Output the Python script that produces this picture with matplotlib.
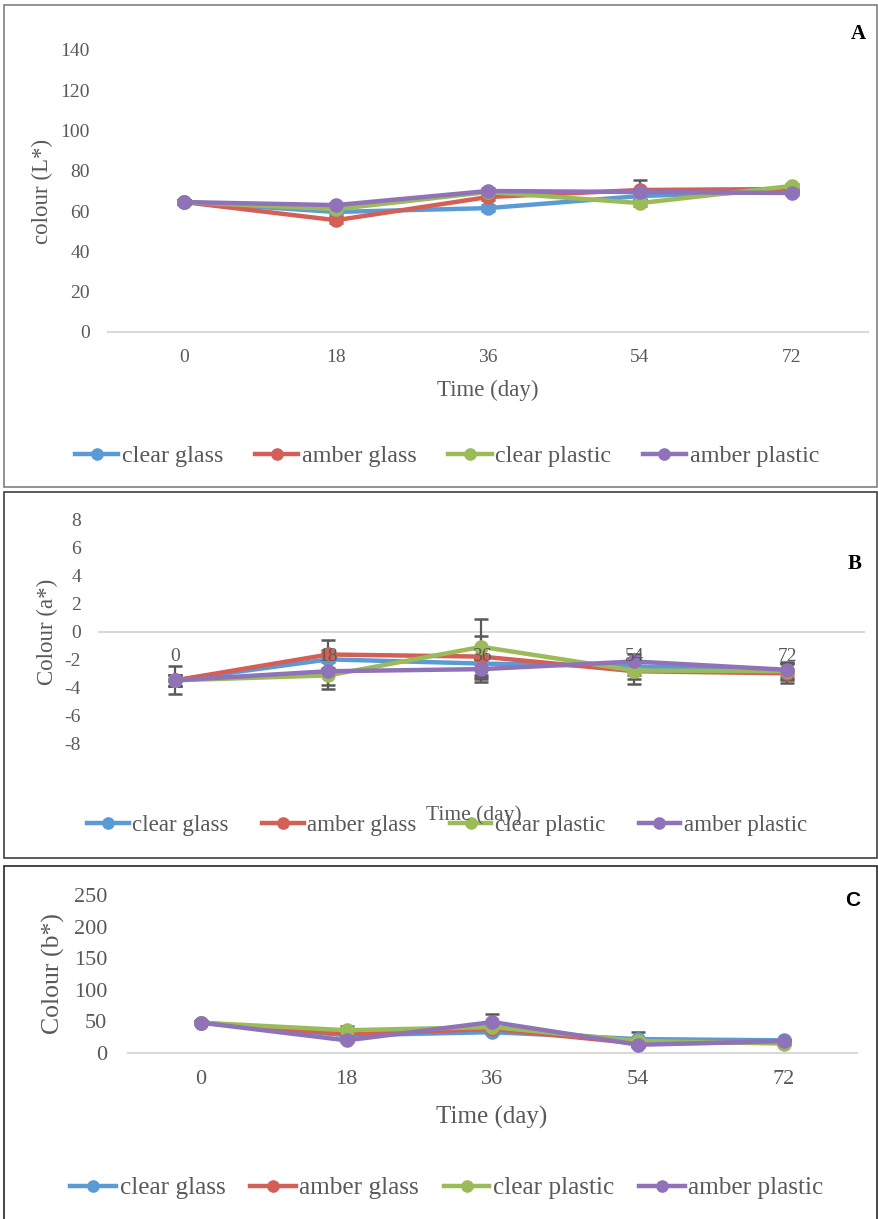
import matplotlib
matplotlib.use("Agg")
import matplotlib.pyplot as plt
from matplotlib.patches import Rectangle
import numpy as np

W, H = 879, 1219

days = ["0", "18", "36", "54", "72"]
series_names = ["clear glass", "amber glass", "clear plastic", "amber plastic"]
series_colors = ["#5B9BD5", "#D35F57", "#9BBB59", "#8F72B8"]

# L* values and standard deviations
L_clear_glass = [64.5, 59.6, 61.5, 67.5, 70.0]
L_amber_glass = [64.5, 55.5, 67.0, 70.5, 71.0]
L_clear_plastic = [64.5, 61.0, 69.5, 64.0, 72.5]
L_amber_plastic = [64.5, 63.0, 70.0, 69.5, 69.0]
L_err_clear_glass = [1.0, 1.5, 1.5, 2.0, 1.0]
L_err_amber_glass = [1.0, 1.5, 1.5, 5.0, 1.0]
L_err_clear_plastic = [1.0, 1.0, 1.0, 1.5, 1.0]
L_err_amber_plastic = [1.0, 1.0, 1.5, 1.5, 1.0]

# a* values and standard deviations
a_clear_glass = [-3.5, -2.0, -2.3, -2.5, -2.8]
a_amber_glass = [-3.5, -1.65, -1.8, -2.85, -3.0]
a_clear_plastic = [-3.5, -3.15, -1.1, -2.8, -2.85]
a_amber_plastic = [-3.5, -2.85, -2.7, -2.15, -2.75]
a_err_clear_glass = [1.0, 0.6, 1.1, 0.6, 0.6]
a_err_amber_glass = [0.4, 1.05, 1.5, 0.95, 0.7]
a_err_clear_plastic = [0.4, 0.95, 2.0, 0.6, 0.6]
a_err_amber_plastic = [0.4, 1.0, 0.95, 0.5, 0.5]

# b* values and standard deviations
b_clear_glass = [48, 28, 33, 22, 20]
b_amber_glass = [48, 30, 38, 15, 17]
b_clear_plastic = [48, 36, 41, 19, 15]
b_amber_plastic = [48, 20, 49, 13, 19]
b_err_clear_glass = [2, 3, 3, 11, 2]
b_err_amber_glass = [2, 3, 3, 3, 2]
b_err_clear_plastic = [2, 7, 3, 3, 2]
b_err_amber_plastic = [2, 3, 12, 3, 2]

TICK_COLOR = "#595959"
SERIF = ["Liberation Serif", "DejaVu Serif"]
plt.rcParams["font.family"] = SERIF


def fx(px):
    return px / W


def fy(py):
    return 1 - py / H


def make_axes(fig, left, right, top, bottom):
    return fig.add_axes([fx(left), fy(bottom), fx(right - left), (bottom - top) / H])


def draw_panel(fig, ax, values, errors, ylim, yticks, ylabel, ylab_x,
               tick_fs, ypad, xlab_y, xlab_x, xlab_fs, leg_y, leg_fs, leg_colsp,
               letter, letter_xy, letter_family):
    x = np.arange(len(days))
    for vals, errs, name, col in zip(values, errors, series_names, series_colors):
        ax.errorbar(x, vals, yerr=errs, fmt="none", ecolor="#595959", elinewidth=1.6,
                    capsize=5, capthick=1.8, zorder=2)
        ax.plot(x, vals, color=col, lw=3.2, marker="o", ms=9.5, label=name, zorder=3)
    ax.set_xlim(-0.5, len(days) - 0.5)
    ax.set_ylim(*ylim)
    ax.set_yticks(yticks)
    ax.set_yticklabels([str(t) for t in yticks])
    ax.set_xticks(x)
    ax.set_xticklabels(days)
    for s in ["top", "right", "left"]:
        ax.spines[s].set_visible(False)
    ax.spines["bottom"].set_position(("data", 0))
    ax.spines["bottom"].set_color("#D9D9D9")
    ax.spines["bottom"].set_linewidth(1.5)
    ax.spines["bottom"].set_zorder(1)
    ax.xaxis.set_zorder(5)
    ax.tick_params(axis="both", length=0, colors=TICK_COLOR, labelsize=tick_fs)
    ax.tick_params(axis="y", pad=ypad)
    ax.tick_params(axis="x", pad=12)
    ax.patch.set_alpha(0)

    fig.text(fx(ylab_x), (ax.get_position().y0 + ax.get_position().y1) / 2, ylabel,
             rotation=90, ha="center", va="center", fontsize=tick_fs + 2.5, color=TICK_COLOR)
    fig.text(fx(xlab_x), fy(xlab_y), "Time (day)", ha="center", va="center",
             fontsize=xlab_fs, color=TICK_COLOR)
    fig.text(fx(letter_xy[0]), fy(letter_xy[1]), letter, ha="center", va="center",
             fontsize=15, fontweight="bold", family=letter_family, color="black")
    ax.legend(loc="center", bbox_to_anchor=(fx(447), fy(leg_y)), bbox_transform=fig.transFigure,
              ncol=4, frameon=False, fontsize=leg_fs, handlelength=1.8, handletextpad=0.15,
              columnspacing=leg_colsp, markerscale=0.85, labelcolor=TICK_COLOR)


fig = plt.figure(figsize=(W / 100, H / 100), dpi=100)

# panel frames
fig.patches.append(Rectangle((fx(4), fy(487)), fx(873), 482 / H, transform=fig.transFigure,
                             fill=False, edgecolor="#7F7F7F", lw=1.2))
fig.patches.append(Rectangle((fx(4), fy(858)), fx(873), 366 / H, transform=fig.transFigure,
                             fill=False, edgecolor="#404040", lw=1.2))
fig.patches.append(Rectangle((fx(4), fy(1222)), fx(873), 356 / H, transform=fig.transFigure,
                             fill=False, edgecolor="#262626", lw=1.2))

axA = make_axes(fig, 108, 868, 50, 332)
draw_panel(fig, axA,
           [L_clear_glass, L_amber_glass, L_clear_plastic, L_amber_plastic],
           [L_err_clear_glass, L_err_amber_glass, L_err_clear_plastic, L_err_amber_plastic],
           (0, 140), list(range(0, 141, 20)), "colour (L*)", 42,
           14, 13, 390, 488, 16.5, 456, 17.4, 1.3, "A", (858, 34), "Liberation Serif")

axB = make_axes(fig, 99, 864, 520, 743)
draw_panel(fig, axB,
           [a_clear_glass, a_amber_glass, a_clear_plastic, a_amber_plastic],
           [a_err_clear_glass, a_err_amber_glass, a_err_clear_plastic, a_err_amber_plastic],
           (-8, 8), list(range(-8, 9, 2)), "Colour (a*)", 47,
           14, 13, 815, 474, 15.5, 825, 16.6, 1.45, "B", (855, 564), "Liberation Serif")

axC = make_axes(fig, 128, 857, 895, 1053)
draw_panel(fig, axC,
           [b_clear_glass, b_amber_glass, b_clear_plastic, b_amber_plastic],
           [b_err_clear_glass, b_err_amber_glass, b_err_clear_plastic, b_err_amber_plastic],
           (0, 250), list(range(0, 251, 50)), "Colour (b*)", 53,
           16, 15, 1117, 492, 18, 1188, 18.2, 0.98, "C", (853, 900), "Liberation Sans")

fig.savefig("out.png", dpi=100)
